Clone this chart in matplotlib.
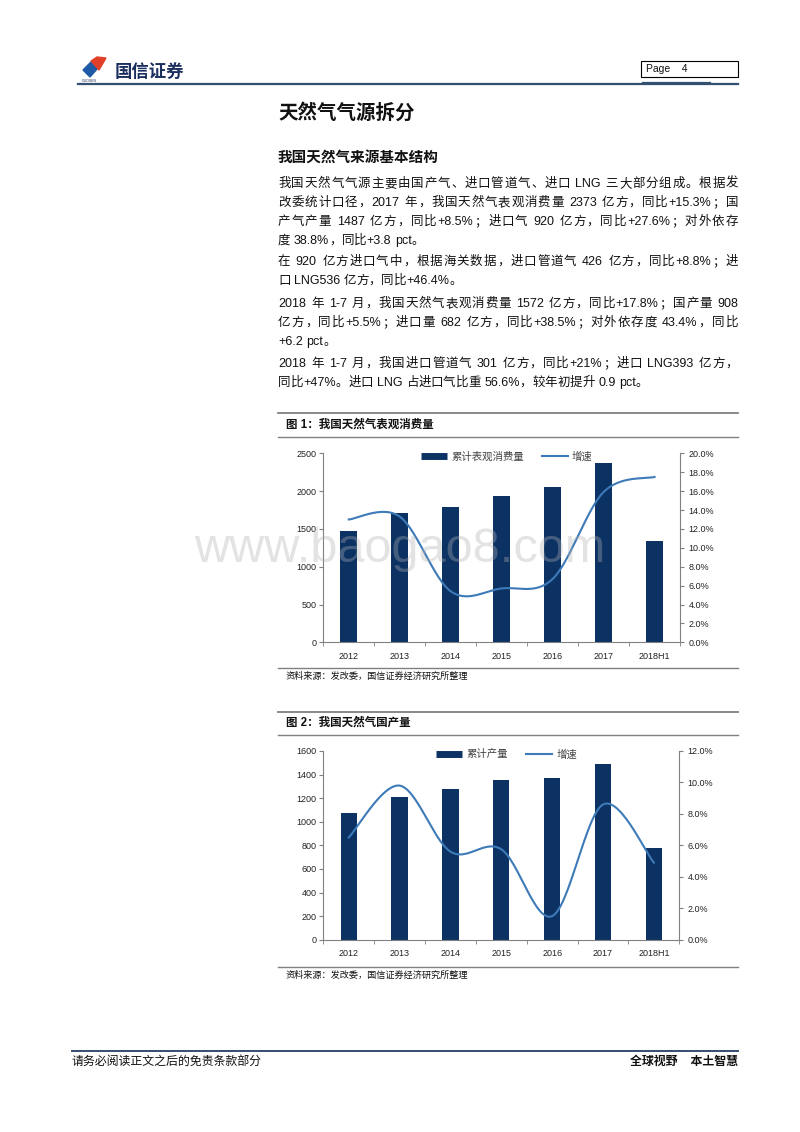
import re
import numpy as np
import matplotlib
matplotlib.use('Agg')
import matplotlib.pyplot as plt
from matplotlib.patches import Polygon, Rectangle
from matplotlib.lines import Line2D

plt.rcParams['font.family'] = ['Liberation Sans', 'Noto Sans CJK SC', 'DejaVu Sans']

# ---------------- data ----------------
years = ['2012', '2013', '2014', '2015', '2016', '2017', '2018H1']
consumption = [1473, 1705, 1786, 1932, 2058, 2373, 1345]
consumption_growth = [13.0, 13.3, 5.4, 5.7, 6.7, 15.9, 17.5]
production = [1074, 1210, 1278, 1351, 1371, 1487, 777]
production_growth = [6.5, 9.8, 5.6, 5.75, 1.5, 8.6, 4.9]

paragraphs = [
    ['我国天然气气源主要由国产气、进口管道气、进口 LNG 三大部分组成。根据发',
     '改委统计口径，2017 年，我国天然气表观消费量 2373 亿方，同比+15.3%；国',
     '产气产量 1487 亿方，同比+8.5%；进口气 920 亿方，同比+27.6%；对外依存',
     '度 38.8%，同比+3.8 pct。'],
    ['在 920 亿方进口气中，根据海关数据，进口管道气 426 亿方，同比+8.8%；进',
     '口 LNG536 亿方，同比+46.4%。'],
    ['2018 年 1-7 月，我国天然气表观消费量 1572 亿方，同比+17.8%；国产量 908',
     '亿方，同比+5.5%；进口量 682 亿方，同比+38.5%；对外依存度 43.4%，同比',
     '+6.2 pct。'],
    ['2018 年 1-7 月，我国进口管道气 301 亿方，同比+21%；进口 LNG393 亿方，',
     '同比+47%。进口 LNG 占进口气比重 56.6%，较年初提升 0.9 pct。'],
]
para_baselines = [[187, 206, 225, 244], [265, 284], [307, 326, 345], [367, 386]]

NAVY = '#0c3264'
LINE = '#3d7ab8'
GREY = '#808080'
W, H = 800, 1132

fig = plt.figure(figsize=(8, 11.32), dpi=100)
page = fig.add_axes([0, 0, 1, 1])
page.set_xlim(0, W)
page.set_ylim(H, 0)
page.axis('off')
renderer = fig.canvas.get_renderer()


def text_width(s, **kw):
    t = page.text(0, 0, s, **kw)
    w = t.get_window_extent(renderer).width
    t.remove()
    return w


def justified_line(x0, x1, y, s, justify, size=9):
    toks = re.findall(r'[A-Za-z0-9.+\-%]+| |.', s)
    space = 0.28 * size * 100 / 72
    widths = [space if t == ' ' else text_width(t, fontsize=size) for t in toks]
    gap = 0
    if justify and len(toks) > 1:
        gap = (x1 - x0 - sum(widths)) / (len(toks) - 1)
    x = x0
    for t, w in zip(toks, widths):
        if t != ' ':
            page.text(x, y, t, fontsize=size, va='baseline', ha='left', color='#111111')
        x += w + gap


# ---------------- header ----------------
page.add_patch(Polygon([[83, 70], [91, 62], [98, 68], [90, 77]], closed=True, color='#1f5aa6'))
page.add_patch(Polygon([[91, 61], [97, 57], [106, 58], [99, 70]], closed=True, color='#e2402a'))
page.text(115, 71, '国信证券', fontsize=12.5, fontweight='bold', color='#1b2f5e', va='center')
page.text(82, 81.5, 'GUOSEN', fontsize=2.5, color='#1b2f5e', va='center')
page.plot([78, 738], [84, 84], color='#34506f', lw=1.6)
page.plot([643, 710], [82.5, 82.5], color='#34506f', lw=1.6)
page.add_patch(Rectangle((641, 61), 97, 16, fill=False, ec='black', lw=0.8))
page.text(646, 69.5, 'Page    4', fontsize=7.5, va='center', color='#111111')

# ---------------- body text ----------------
page.text(278, 113, '天然气气源拆分', fontsize=14, fontweight='bold', va='center', color='#111111')
page.text(278, 158, '我国天然气来源基本结构', fontsize=10.5, fontweight='bold', va='center',
          color='#111111')
for lines, ys in zip(paragraphs, para_baselines):
    for i, (ln, y) in enumerate(zip(lines, ys)):
        justified_line(278, 738, y, ln, justify=(i < len(lines) - 1))


# ---------------- charts ----------------
def smooth(xs, ys, n=30):
    # bezier smoothing through the data points, like the spreadsheet's smoothed line
    pts = np.column_stack([xs, ys]).astype(float)
    P = np.vstack([pts[0], pts, pts[-1]])
    out = []
    t = np.linspace(0, 1, n)[:, None]
    for i in range(1, len(P) - 2):
        p0, p1, p2, p3 = P[i - 1], P[i], P[i + 1], P[i + 2]
        c1 = p1 + (p2 - p0) / 6
        c2 = p2 - (p3 - p1) / 6
        out.append((1 - t) ** 3 * p1 + 3 * (1 - t) ** 2 * t * c1 + 3 * (1 - t) * t ** 2 * c2 + t ** 3 * p2)
    return np.vstack(out)


def chart_frame(y_top, y_title, y_sep, y_bottom, title):
    page.plot([278, 738], [y_top, y_top], color=GREY, lw=1.3)
    page.text(286, y_title, title, fontsize=8.3, fontweight='bold', va='center', color='#111111')
    page.plot([278, 738], [y_sep, y_sep], color=GREY, lw=1.0)
    page.plot([278, 738], [y_bottom, y_bottom], color=GREY, lw=1.0)
    page.text(286, y_bottom + 8, '资料来源：发改委，国信证券经济研究所整理', fontsize=6.6,
              va='center', color='#111111')


def combo(rect, bars, growth, ymax, ystep, rmax, bar_label, width):
    ax = fig.add_axes(rect)
    ax.set_facecolor('none')
    x = np.arange(len(years))
    ax.bar(x, bars, width=width, color=NAVY, zorder=2)
    ax.set_xlim(-0.5, len(years) - 0.5)
    ax.set_ylim(0, ymax)
    ax.set_yticks(np.arange(0, ymax + 1, ystep))
    ax.set_xticks(x)
    ax.set_xticklabels(years)
    ax.set_xticks(np.arange(-0.5, len(years)), minor=True)
    ax.tick_params(axis='x', which='major', length=0, pad=7, labelsize=6.5, colors='#222222')
    ax.tick_params(axis='x', which='minor', length=3, color=GREY, direction='out')
    ax.tick_params(axis='y', length=3, color=GREY, pad=2, labelsize=6.5, labelcolor='#222222')
    for s in ['top', 'right']:
        ax.spines[s].set_visible(False)
    for s in ['left', 'bottom']:
        ax.spines[s].set_color(GREY)
        ax.spines[s].set_linewidth(0.8)

    ax2 = ax.twinx()
    curve = smooth(x, growth)
    ax2.plot(curve[:, 0], curve[:, 1], color=LINE, lw=1.5)
    ax2.set_ylim(0, rmax)
    ax2.set_yticks(np.arange(0, rmax + 0.1, 2))
    ax2.set_yticklabels(['%.1f%%' % v for v in np.arange(0, rmax + 0.1, 2)])
    ax2.tick_params(axis='y', length=3, color=GREY, pad=3, labelsize=6.5, labelcolor='#222222')
    for s in ['top', 'left', 'bottom']:
        ax2.spines[s].set_visible(False)
    ax2.spines['right'].set_color(GREY)
    ax2.spines['right'].set_linewidth(0.8)

    handles = [Line2D([], [], color=NAVY, lw=5, solid_capstyle='butt'),
               Line2D([], [], color=LINE, lw=1.5)]
    ax2.legend(handles, [bar_label, '增速'], loc='upper center', bbox_to_anchor=(0.515, 1.06),
               ncol=2, frameon=False, fontsize=7.5, handlelength=2.5, columnspacing=1.7,
               handletextpad=0.4, labelcolor='#444444')
    return ax, ax2


chart_frame(413, 425, 437, 668, '图 1：我国天然气表观消费量')
combo([323.3 / W, 1 - 642.3 / H, 356.7 / W, 189 / H], consumption, consumption_growth,
      2500, 500, 20, '累计表观消费量', 0.33)

chart_frame(712, 722.5, 735, 967, '图 2：我国天然气国产量')
combo([323.3 / W, 1 - 939.7 / H, 356 / W, 188.7 / H], production, production_growth,
      1600, 200, 12, '累计产量', 0.32)

# ---------------- footer ----------------
page.plot([72, 738], [1050.5, 1050.5], color='#34506f', lw=1.4)
page.text(72, 1062, '请务必阅读正文之后的免责条款部分', fontsize=8.6, va='center', color='#111111')
page.text(738, 1062, '全球视野    本土智慧', fontsize=8.6, fontweight='bold', style='italic',
          ha='right', va='center', color='#111111')

# watermark
fig.text(400 / W, 1 - 550 / H, 'www.baogao8.com', fontsize=35, color='#b0b0b0', alpha=0.35,
         ha='center', va='center', zorder=10)

fig.savefig('out.png', dpi=100)
